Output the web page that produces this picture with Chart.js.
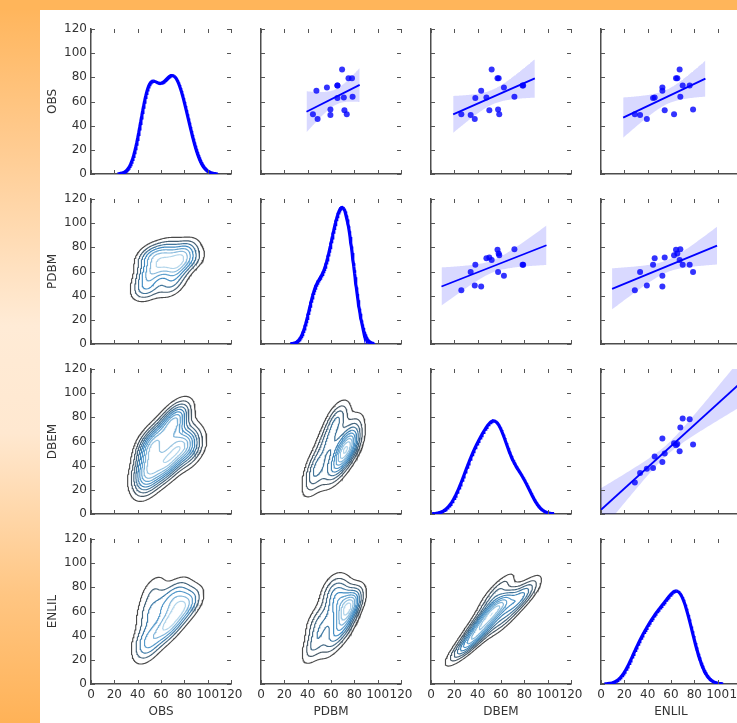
<!DOCTYPE html>
<html>
<head>
<meta charset="utf-8">
<script src="https://cdn.jsdelivr.net/npm/chart.js@4.4.1/dist/chart.umd.min.js"></script>
<style>
html,body{margin:0;padding:0;width:737px;height:723px;overflow:hidden;position:relative;}
#bg{position:absolute;left:0;top:0;width:737px;height:723px;
  background:linear-gradient(180deg,#ffb459 0%,#ffcb90 20%,#ffebd6 45%,#ffe8d0 60%,#ffc683 82%,#ffb257 100%);}
#panel{position:absolute;left:40px;top:10px;width:697px;height:713px;background:#ffffff;}
#top{position:absolute;left:0;top:0;width:737px;height:10px;background:#ffb55a;}
canvas{position:absolute;}
</style>
</head>
<body>
<div id="bg"></div><div id="top"></div><div id="panel"></div>
<script>
// ---------------- data ----------------
const VARS  = ['OBS', 'PDBM', 'DBEM', 'ENLIL'];
const OBS   = [49.5, 48.9, 45.6, 62.8, 68.8, 63.3, 52.8, 86.5, 79.3, 79.3, 53.4, 49.5, 71.6, 63.9, 73.3, 73.3];
const PDBM  = [44.5, 59.5, 48.5, 65.5, 47.5, 71.0, 71.5, 69.5, 78.0, 75.0, 59.5, 73.5, 56.5, 78.5, 65.5, 65.5];
const DBEM  = [26.0, 34.0, 37.5, 38.0, 43.0, 47.5, 50.0, 52.0, 57.0, 58.0, 57.5, 58.5, 62.5, 71.5, 79.0, 78.5];
const ENLIL = [29.0, 33.5, 39.3, 44.6, 52.6, 46.0, 54.6, 67.4, 64.3, 65.4, 78.9, 62.6, 52.6, 68.0, 70.0, 76.0];
const SERIES = [OBS, PDBM, DBEM, ENLIL];
const TICKS = [0, 20, 40, 60, 80, 100, 120];
// height (in axis units) of the diagonal density peaks
const DIAG_PEAK = [81.5, 113, 77, 77];
// upper-triangle regression panels [row, col] and the x-extent of each fitted line
const FIT_PANELS = [[0,1],[0,2],[0,3],[1,2],[1,3],[2,3]];
const FIT_LO = [39, 19, 19, 9, 9.5, 0];
const FIT_HI = [84.6, 89, 89.5, 99, 99.5, 130];

// ---------------- statistics helpers ----------------
const mean = a => a.reduce((s, v) => s + v, 0) / a.length;
const std1 = a => { const m = mean(a); return Math.sqrt(a.reduce((s, v) => s + (v - m) ** 2, 0) / (a.length - 1)); };
function linspace(a, b, n) { const r = []; for (let k = 0; k < n; k++) r.push(a + (b - a) * k / (n - 1)); return r; }
const SQ2PI = Math.sqrt(2 * Math.PI);

// Gaussian KDE, Scott's factor (scipy style)
function kde1(a, n) {
  const bw = std1(a) * Math.pow(a.length, -0.2);
  const xs = linspace(Math.min(...a) - 3 * bw, Math.max(...a) + 3 * bw, n);
  return xs.map(x => { let s = 0; for (const v of a) { const u = (x - v) / bw; s += Math.exp(-0.5 * u * u); } return { x, y: s / (a.length * bw * SQ2PI) }; });
}
function kde2(ax, ay, n) {
  const N = ax.length, f = Math.pow(N, -1 / 6);
  const mx = mean(ax), my = mean(ay);
  let cxx = 0, cyy = 0, cxy = 0;
  for (let k = 0; k < N; k++) { cxx += (ax[k] - mx) ** 2; cyy += (ay[k] - my) ** 2; cxy += (ax[k] - mx) * (ay[k] - my); }
  cxx /= (N - 1); cyy /= (N - 1); cxy /= (N - 1);
  const sxx = cxx * f * f, syy = cyy * f * f, sxy = cxy * f * f;
  const det = sxx * syy - sxy * sxy;
  const ixx = syy / det, iyy = sxx / det, ixy = -sxy / det;
  const norm = 1 / (N * 2 * Math.PI * Math.sqrt(det));
  const bx = f * Math.sqrt(cxx), by = f * Math.sqrt(cyy);
  const xs = linspace(Math.min(...ax) - 3 * bx, Math.max(...ax) + 3 * bx, n);
  const ys = linspace(Math.min(...ay) - 3 * by, Math.max(...ay) + 3 * by, n);
  const Z = []; let zmin = Infinity, zmax = -Infinity;
  for (let j = 0; j < n; j++) {
    const row = [];
    for (let i = 0; i < n; i++) {
      let s = 0;
      for (let k = 0; k < N; k++) {
        const dx = xs[i] - ax[k], dy = ys[j] - ay[k];
        s += Math.exp(-0.5 * (ixx * dx * dx + 2 * ixy * dx * dy + iyy * dy * dy));
      }
      s *= norm; row.push(s); if (s < zmin) zmin = s; if (s > zmax) zmax = s;
    }
    Z.push(row);
  }
  return { xs, ys, Z, zmin, zmax };
}
function autoLevels(zmin, zmax, nbins) {
  const raw = (zmax - zmin) / nbins;
  const mag = Math.pow(10, Math.floor(Math.log10(raw)));
  const step = [1, 2, 2.5, 5, 10].map(s => s * mag).find(s => s >= raw * (1 - 1e-9));
  const out = [];
  for (let k = 1; k * step < zmax; k++) if (k * step > zmin) out.push(k * step);
  return out;
}
function contour(xs, ys, Z, lev) {
  const nx = xs.length, ny = ys.length, P = new Map(), A = new Map();
  const link = (k1, p1, k2, p2) => {
    P.set(k1, p1); P.set(k2, p2);
    if (!A.has(k1)) A.set(k1, []); if (!A.has(k2)) A.set(k2, []);
    A.get(k1).push(k2); A.get(k2).push(k1);
  };
  const it = (x0, y0, z0, x1, y1, z1) => { const t = (lev - z0) / (z1 - z0); return [x0 + (x1 - x0) * t, y0 + (y1 - y0) * t]; };
  for (let j = 0; j < ny - 1; j++) for (let i = 0; i < nx - 1; i++) {
    const a = Z[j][i], b = Z[j][i + 1], c = Z[j + 1][i + 1], d = Z[j + 1][i];
    const idx = (a > lev ? 1 : 0) | (b > lev ? 2 : 0) | (c > lev ? 4 : 0) | (d > lev ? 8 : 0);
    if (idx === 0 || idx === 15) continue;
    const E = {
      B: () => ['h' + i + '_' + j, it(xs[i], ys[j], a, xs[i + 1], ys[j], b)],
      R: () => ['v' + (i + 1) + '_' + j, it(xs[i + 1], ys[j], b, xs[i + 1], ys[j + 1], c)],
      T: () => ['h' + i + '_' + (j + 1), it(xs[i], ys[j + 1], d, xs[i + 1], ys[j + 1], c)],
      L: () => ['v' + i + '_' + j, it(xs[i], ys[j], a, xs[i], ys[j + 1], d)]
    };
    const center = (a + b + c + d) / 4;
    let segs;
    switch (idx) {
      case 1: case 14: segs = [['B', 'L']]; break;
      case 2: case 13: segs = [['B', 'R']]; break;
      case 3: case 12: segs = [['L', 'R']]; break;
      case 4: case 11: segs = [['R', 'T']]; break;
      case 6: case 9: segs = [['B', 'T']]; break;
      case 7: case 8: segs = [['L', 'T']]; break;
      case 5: segs = center > lev ? [['B', 'R'], ['T', 'L']] : [['B', 'L'], ['R', 'T']]; break;
      case 10: segs = center > lev ? [['B', 'L'], ['R', 'T']] : [['B', 'R'], ['L', 'T']]; break;
    }
    for (const [e1, e2] of segs) { const [k1, p1] = E[e1](); const [k2, p2] = E[e2](); link(k1, p1, k2, p2); }
  }
  const seen = new Set(), lines = [];
  for (const k of A.keys()) {
    if (seen.has(k)) continue;
    seen.add(k);
    const line = [k];
    let cur = k;
    for (;;) { const nb = A.get(cur).find(q => !seen.has(q)); if (nb === undefined) break; seen.add(nb); line.push(nb); cur = nb; }
    cur = k;
    for (;;) { const nb = A.get(cur).find(q => !seen.has(q)); if (nb === undefined) break; seen.add(nb); line.unshift(nb); cur = nb; }
    if (line.length > 2 && A.get(line[line.length - 1]).includes(line[0])) line.push(line[0]);
    lines.push(line.map(q => P.get(q)));
  }
  return lines;
}
// seaborn "Blues_d"-like colormap: dark grey -> #3787c0 -> #abd0e6
const CMAP = [[74, 74, 74], [62, 138, 194], [176, 212, 234]];
function cmap(t) {
  const seg = t <= 0.5 ? 0 : 1, u = seg === 0 ? t / 0.5 : (t - 0.5) / 0.5;
  const a = CMAP[seg], b = CMAP[seg + 1];
  return 'rgb(' + a.map((v, q) => Math.round(v + (b[q] - v) * u)).join(',') + ')';
}
function ols(x, y) {
  const n = x.length, mx = mean(x), my = mean(y);
  let sxx = 0, sxy = 0; for (let k = 0; k < n; k++) { sxx += (x[k] - mx) ** 2; sxy += (x[k] - mx) * (y[k] - my); }
  const b = sxy / sxx, a = my - b * mx;
  let sse = 0; for (let k = 0; k < n; k++) sse += (y[k] - a - b * x[k]) ** 2;
  return { a, b, mx, sxx, n, s: Math.sqrt(sse / (n - 2)) };
}
const T975_14 = 2.145;

// ---------------- chart construction ----------------
Chart.defaults.font.family = 'DejaVu Sans';
Chart.defaults.color = '#333333';

const inTicks = {
  id: 'inTicks',
  afterDraw(chart) {
    const { ctx, chartArea: a, scales } = chart;
    const x = scales.x, y = scales.y, len = 4;
    ctx.save(); ctx.strokeStyle = '#555555'; ctx.lineWidth = 1; ctx.beginPath();
    for (const v of TICKS) {
      const px = Math.round(x.getPixelForValue(v)) + 0.5;
      ctx.moveTo(px, a.bottom); ctx.lineTo(px, a.bottom - len);
      ctx.moveTo(px, a.top); ctx.lineTo(px, a.top + len);
      const py = Math.round(y.getPixelForValue(v)) + 0.5;
      ctx.moveTo(a.left, py); ctx.lineTo(a.left + len, py);
      ctx.moveTo(a.right, py); ctx.lineTo(a.right - len, py);
    }
    ctx.stroke(); ctx.restore();
  }
};

const PADL = 70, PADT = 15, PADR = 25, PADB = 45, AW = 140, AH = 145;

function makePanel(r, c) {
  const L = 91 + 170 * c, T = 29 + 170 * r;
  const W = AW + PADL + PADR, H = AH + PADT + PADB;
  const cv = document.createElement('canvas');
  cv.width = W; cv.height = H;
  cv.style.left = (L - PADL) + 'px'; cv.style.top = (T - PADT) + 'px';
  cv.style.width = W + 'px'; cv.style.height = H + 'px';
  document.body.appendChild(cv);

  const font = { family: 'DejaVu Sans', size: 12 };
  const scales = {
    x: {
      type: 'linear', position: 'bottom', min: 0, max: 120,
      grid: { display: false, drawTicks: false },
      border: { display: true, color: '#4d4d4d', width: 1.5 },
      ticks: { stepSize: 20, display: r === 3, autoSkip: false, maxRotation: 0, minRotation: 0, padding: 4, color: '#333333', font },
      title: { display: r === 3, text: VARS[c], color: '#333333', font, padding: { top: 0, bottom: 10 } },
      afterFit: s => { s.height = PADB; s.paddingLeft = 0; s.paddingRight = 0; }
    },
    y: {
      type: 'linear', position: 'left', min: 0, max: 120,
      grid: { display: false, drawTicks: false },
      border: { display: true, color: '#4d4d4d', width: 1.5 },
      ticks: { stepSize: 20, display: c === 0, padding: 4, color: '#333333', font },
      title: { display: c === 0, text: VARS[r], color: '#333333', font, padding: { top: 25, bottom: 0 } },
      afterFit: s => { s.width = PADL; s.paddingTop = 0; s.paddingBottom = 0; }
    }
  };
  const datasets = [];

  if (r === c) {
    const pts = kde1(SERIES[c], 200);
    const dmax = Math.max(...pts.map(p => p.y));
    scales.yd = { type: 'linear', display: false, min: 0, max: dmax * 120 / DIAG_PEAK[c] };
    datasets.push({ data: pts, yAxisID: 'yd', showLine: true, pointRadius: 0, borderColor: '#0000ff', borderWidth: 3.2, fill: false, tension: 0 });
  } else if (r < c) {
    const xd = SERIES[c], yd = SERIES[r];
    const fi = FIT_PANELS.findIndex(p => p[0] === r && p[1] === c);
    const f = ols(xd, yd);
    const gx = linspace(FIT_LO[fi], FIT_HI[fi], 100);
    const hw = x => T975_14 * f.s * Math.sqrt(1 / f.n + (x - f.mx) ** 2 / f.sxx);
    datasets.push({ data: xd.map((v, k) => ({ x: v, y: yd[k] })), showLine: false, pointRadius: 3, pointBorderWidth: 0, pointBackgroundColor: 'rgba(0,0,255,0.8)', order: 0 });
    datasets.push({ data: [{ x: gx[0], y: f.a + f.b * gx[0] }, { x: gx[99], y: f.a + f.b * gx[99] }], showLine: true, pointRadius: 0, borderColor: '#0000ff', borderWidth: 1.8, order: 1 });
    datasets.push({ data: gx.map(x => ({ x, y: f.a + f.b * x + hw(x) })), showLine: true, pointRadius: 0, borderWidth: 0, borderColor: 'rgba(0,0,0,0)', fill: '+1', backgroundColor: 'rgba(0,0,255,0.15)', order: 2 });
    datasets.push({ data: gx.map(x => ({ x, y: f.a + f.b * x - hw(x) })), showLine: true, pointRadius: 0, borderWidth: 0, borderColor: 'rgba(0,0,0,0)', fill: false, order: 3 });
  } else {
    const g = kde2(SERIES[c], SERIES[r], 100);
    const levs = autoLevels(g.zmin, g.zmax, 11);
    levs.forEach((lv, k) => {
      const t = levs.length > 1 ? k / (levs.length - 1) : 0;
      const lines = contour(g.xs, g.ys, g.Z, lv);
      const data = [];
      for (const ln of lines) { for (const p of ln) data.push({ x: p[0], y: p[1] }); data.push({ x: ln[0][0], y: null }); }
      datasets.push({ data, showLine: true, spanGaps: false, pointRadius: 0, borderColor: cmap(t), borderWidth: 1.15, tension: 0, fill: false });
    });
  }

  new Chart(cv.getContext('2d'), {
    type: 'scatter',
    data: { datasets },
    options: {
      responsive: false, animation: false, events: [],
      layout: { padding: { left: 0, top: PADT, right: PADR, bottom: 0 }, autoPadding: false },
      plugins: { legend: { display: false }, tooltip: { enabled: false } },
      scales
    },
    plugins: [inTicks]
  });
}

for (let r = 0; r < 4; r++) for (let c = 0; c < 4; c++) makePanel(r, c);
</script>
</body>
</html>
